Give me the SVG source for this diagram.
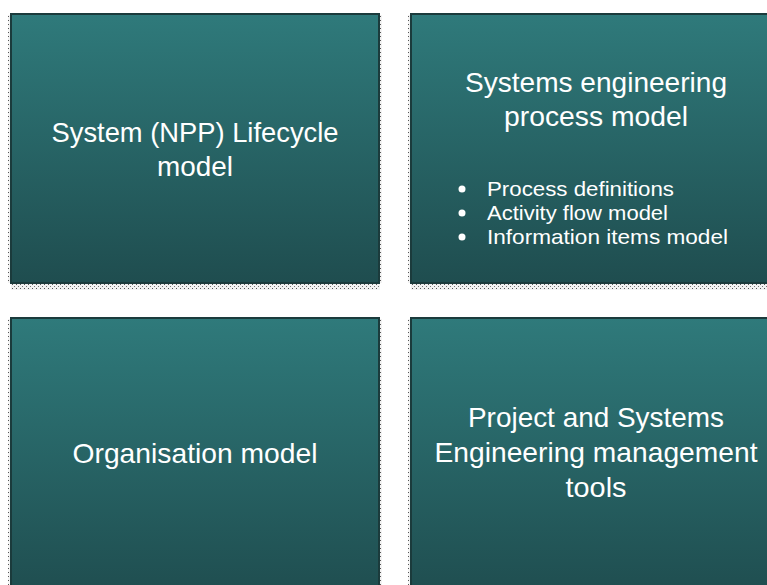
<svg xmlns="http://www.w3.org/2000/svg" width="767" height="585" viewBox="0 0 767 585">
<style>
.box{fill:url(#g);stroke:#1b3b3c;stroke-width:2}
.t{font-family:"Liberation Sans",Arial,sans-serif;fill:#ffffff;text-anchor:middle;font-size:28px}
.b{font-family:"Liberation Sans",Arial,sans-serif;fill:#ffffff;font-size:21px}
.sh{fill:url(#dots)}
</style>
<defs>
<linearGradient id="g" x1="0" y1="0" x2="0" y2="1">
<stop offset="0" stop-color="#2f7a7b"/>
<stop offset="1" stop-color="#1f4d4f"/>
</linearGradient>
<pattern id="dots" width="4" height="4" patternUnits="userSpaceOnUse">
<rect width="4" height="4" fill="#f2f2f2"/>
<rect x="0" y="0" width="1" height="1" fill="#555"/>
<rect x="2" y="2" width="1" height="1" fill="#777"/>
</pattern>
</defs>
<rect width="767" height="585" fill="#ffffff"/>
<g id="shadows">
<rect class="sh" x="11" y="284" width="369" height="6"/>
<rect class="sh" x="411" y="284" width="356" height="6"/>
<rect class="sh" x="8" y="15" width="2" height="268"/>
<rect class="sh" x="380" y="15" width="2" height="268"/>
<rect class="sh" x="408" y="15" width="2" height="268"/>
<rect class="sh" x="8" y="319" width="2" height="266"/>
<rect class="sh" x="380" y="319" width="2" height="266"/>
<rect class="sh" x="408" y="319" width="2" height="266"/>
</g>
<g id="node-lifecycle">
<rect class="box" x="11" y="14" width="368" height="269"/>
<text class="t" x="195" y="142" textLength="287" lengthAdjust="spacingAndGlyphs">System (NPP) Lifecycle</text>
<text class="t" x="195" y="176" textLength="76" lengthAdjust="spacingAndGlyphs">model</text>
</g>
<g id="node-process">
<rect class="box" x="411" y="14" width="368" height="269"/>
<text class="t" x="596" y="92" textLength="262" lengthAdjust="spacingAndGlyphs">Systems engineering</text>
<text class="t" x="596" y="126" textLength="184" lengthAdjust="spacingAndGlyphs">process model</text>
<circle cx="462" cy="189" r="3.5" fill="#fff"/>
<circle cx="462" cy="213" r="3.5" fill="#fff"/>
<circle cx="462" cy="237" r="3.5" fill="#fff"/>
<text class="b" x="487" y="196" textLength="187" lengthAdjust="spacingAndGlyphs">Process definitions</text>
<text class="b" x="487" y="220" textLength="181" lengthAdjust="spacingAndGlyphs">Activity flow model</text>
<text class="b" x="487" y="244" textLength="241" lengthAdjust="spacingAndGlyphs">Information items model</text>
</g>
<g id="node-organisation">
<rect class="box" x="11" y="318" width="368" height="280"/>
<text class="t" x="195" y="463" textLength="245" lengthAdjust="spacingAndGlyphs">Organisation model</text>
</g>
<g id="node-tools">
<rect class="box" x="411" y="318" width="368" height="280"/>
<text class="t" x="596" y="427" textLength="256" lengthAdjust="spacingAndGlyphs">Project and Systems</text>
<text class="t" x="596" y="462" textLength="323" lengthAdjust="spacingAndGlyphs">Engineering management</text>
<text class="t" x="596" y="497" textLength="61" lengthAdjust="spacingAndGlyphs">tools</text>
</g>
<g id="connectors"></g>
</svg>
